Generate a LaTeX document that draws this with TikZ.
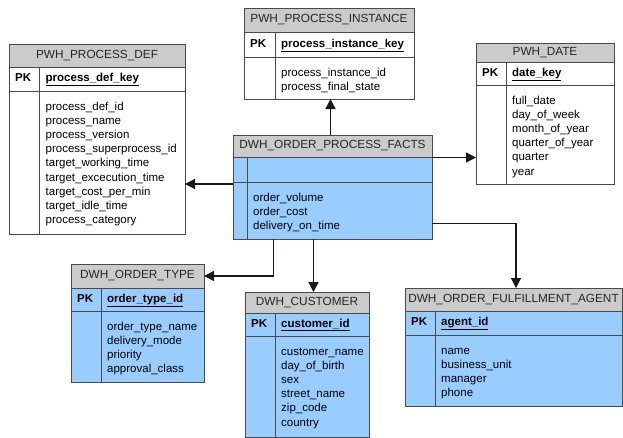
\documentclass[tikz,border=0pt]{standalone}
\usepackage{fontspec}
\setmainfont{Liberation Sans}
\usetikzlibrary{arrows.meta}
\definecolor{hdrgray}{HTML}{CBCBCB}
\definecolor{tblblue}{HTML}{99CCFF}
\definecolor{edgec}{HTML}{4A4A4A}
\tikzset{
  tbl/.style={draw=edgec, line width=1pt, inner sep=0pt, outer sep=0pt},
  hdrtxt/.style={font=\fontsize{11.8}{14}\selectfont, text=black!85, inner sep=0pt},
  pktxt/.style={font=\fontsize{11.5}{14}\selectfont\bfseries, inner sep=0pt, anchor=mid west},
  rowtxt/.style={font=\fontsize{11.5}{14}\selectfont, inner sep=0pt, anchor=base west},
  conn/.style={draw=black!90, line width=1.3pt, -{Triangle[length=10pt,width=10pt]}}
}
% #1 name, #2 fill, #3 x1, #4 y1, #5 x2, #6 y2, #7 header bottom, #8 pk bottom, #9 divider x
\newcommand\ertabbox[9]{%
  \node[tbl, fill=#2, minimum width={#5-#3}, minimum height={#6-#4}, anchor=north west] (#1) at (#3,#4) {};
  \node[tbl, fill=hdrgray, minimum width={#5-#3}, minimum height={#7-#4}, anchor=north west] (#1-h) at (#3,#4) {};
  \draw[tbl] (#3,#8) -- (#5,#8);
  \draw[tbl] (#9,#7) -- (#9,#6);
  \gdef\ertX{#3}\gdef\ertH{#7}\gdef\ertP{#8}\gdef\ertD{#9}%
}
% #1 name, #2 title, #3 pk key, #4 rows
\newcommand\ertabtext[4]{%
  \node[hdrtxt] (#1-t) at (#1-h.center) {#2};
  \node[pktxt] (#1-pk) at ({\ertX+6},{(\ertH+\ertP)/2}) {PK};
  \node[pktxt] (#1-key) at ({\ertD+6},{(\ertH+\ertP)/2}) {\underline{#3}};
  \foreach \t [count=\i] in {#4} {
    \node[rowtxt] (#1-l\i) at ({\ertD+6},{\ertP+19.5+(\i-1)*14.1}) {\t};
  }%
}
\begin{document}
\begin{tikzpicture}[x=1pt,y=-1pt]
\useasboundingbox[fill=white] (0,0) rectangle (623,437);

\ertabbox{def}{white}{9}{44}{185}{234}{67}{91}{39.5}
\ertabtext{def}{PWH\_PROCESS\_DEF}{process\_def\_key}{process\_def\_id,process\_name,process\_version,process\_superprocess\_id,target\_working\_time,target\_excecution\_time,target\_cost\_per\_min,target\_idle\_time,process\_category}

\ertabbox{inst}{white}{244}{8}{414}{99}{32}{57}{275}
\ertabtext{inst}{PWH\_PROCESS\_INSTANCE}{process\_instance\_key}{process\_instance\_id,process\_final\_state}

\ertabbox{date}{white}{476}{43}{614}{184}{62}{85}{506}
\ertabtext{date}{PWH\_DATE}{date\_key}{full\_date,day\_of\_week,month\_of\_year,quarter\_of\_year,quarter,year}

\ertabbox{facts}{tblblue}{233}{135}{432}{239}{157}{182}{247}
\node[hdrtxt] (facts-t) at (facts-h.center) {DWH\_ORDER\_PROCESS\_FACTS};
\foreach \t [count=\i] in {order\_volume,order\_cost,delivery\_on\_time} {
  \node[rowtxt] (facts-l\i) at (253,{201.5+(\i-1)*14.1}) {\t};
}

\ertabbox{otype}{tblblue}{71}{264}{204}{382}{288}{311}{101}
\ertabtext{otype}{DWH\_ORDER\_TYPE}{order\_type\_id}{order\_type\_name,delivery\_mode,priority,approval\_class}

\ertabbox{cust}{tblblue}{245}{292}{369}{437}{313}{336}{275}
\ertabtext{cust}{DWH\_CUSTOMER}{customer\_id}{customer\_name,day\_of\_birth,sex,street\_name,zip\_code,country}

\ertabbox{agent}{tblblue}{405}{288}{622}{406}{311}{335}{435}
\ertabtext{agent}{DWH\_ORDER\_FULFILLMENT\_AGENT}{agent\_id}{name,business\_unit,manager,phone}

% connectors
\path ([xshift=97.5pt]facts.north west) coordinate (c1);
\draw[conn] (c1) -- (c1 |- inst.south);
\path ([yshift=-22.5pt]facts.north east) coordinate (c2);
\draw[conn] (c2) -- (c2 -| date.west);
\path ([yshift=-49pt]facts.north west) coordinate (c3);
\draw[conn] (c3) -- (c3 -| def.east);
\path ([xshift=40.5pt]facts.south west) coordinate (c4);
\draw[conn] (c4) |- (otype-h.east);
\path ([xshift=80.5pt]facts.south west) coordinate (c5);
\draw[conn] (c5) -- (c5 |- cust.north);
\path ([yshift=-88.5pt]facts.north east) coordinate (c6);
\path ([xshift=111pt]agent.north west) coordinate (c6b);
\draw[conn] (c6) -| (c6b);
\end{tikzpicture}
\end{document}
